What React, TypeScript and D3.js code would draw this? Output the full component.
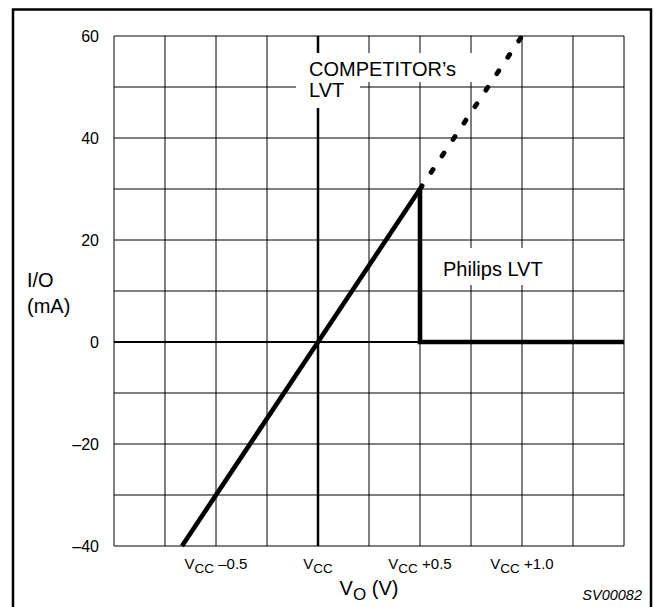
import React from "react";
import * as d3 from "d3";

// ---- data ----
const yTicks = [-40, -20, 0, 20, 40, 60];
const yTickLabels = ["–40", "–20", "0", "20", "40", "60"];
const xTickValues = [-0.5, 0, 0.5, 1.0];
const xTickSuffix = ["–0.5", "", "+0.5", "+1.0"];
const xGridValues = [-1, -0.75, -0.5, -0.25, 0, 0.25, 0.5, 0.75, 1.0, 1.25, 1.5];
const yGridValues = [-40, -30, -20, -10, 0, 10, 20, 30, 40, 50, 60];

// shared solid portion (both devices)
const sharedV = [-0.6667, 0, 0.5];
const sharedI = [-40, 0, 30];
// competitor continuation (dashed)
const competitorV = [0.5, 1.0];
const competitorI = [30, 60];
// Philips clamp
const philipsV = [0.5, 0.5, 1.5];
const philipsI = [30, 0, 0];

const W = 654;
const H = 607;
const FONT = "'Liberation Sans', Arial, Helvetica, sans-serif";

export default function App() {
  const x = d3.scaleLinear().domain([-1, 1.5]).range([114, 624]);
  const y = d3.scaleLinear().domain([-40, 60]).range([546, 36]);

  const line = d3
    .line<[number, number]>()
    .x((d) => x(d[0]))
    .y((d) => y(d[1]));

  const shared = line(sharedV.map((v, i) => [v, sharedI[i]] as [number, number]))!;
  const comp = line(competitorV.map((v, i) => [v, competitorI[i]] as [number, number]))!;
  const phil = line(philipsV.map((v, i) => [v, philipsI[i]] as [number, number]))!;

  const [x0, x1] = x.range();
  const [yb, yt] = y.range();

  return (
    <svg
      width={W}
      height={H}
      style={{ position: "absolute", left: 0, top: 0, background: "#fff" }}
      fontFamily={FONT}
    >
      <rect x={0} y={0} width={W} height={H} fill="#fff" />
      {/* outer frame */}
      <rect x={13} y={9.5} width={638} height={620} fill="none" stroke="#000" strokeWidth={2.5} />

      {/* grid */}
      {xGridValues.map((v) => (
        <line key={"gx" + v} x1={x(v)} x2={x(v)} y1={yt} y2={yb} stroke="#000" strokeWidth={1} />
      ))}
      {yGridValues.map((v) => (
        <line key={"gy" + v} x1={x0} x2={x1} y1={y(v)} y2={y(v)} stroke="#000" strokeWidth={1} />
      ))}

      {/* Vcc and zero axes */}
      <line x1={x(0)} x2={x(0)} y1={yt} y2={yb} stroke="#000" strokeWidth={2.5} />
      <line x1={x0} x2={x1} y1={y(0)} y2={y(0)} stroke="#000" strokeWidth={2.2} />

      {/* label backgrounds */}
      <rect x={296} y={53} width={182} height={29} fill="#fff" />
      <rect x={296} y={82} width={64} height={26} fill="#fff" />
      <rect x={437} y={248} width={115} height={37} fill="#fff" />

      {/* curves */}
      <path d={shared} fill="none" stroke="#000" strokeWidth={4.6} />
      <path
        d={comp}
        fill="none"
        stroke="#000"
        strokeWidth={4.8}
        strokeLinecap="round"
        strokeDasharray="3.5 16.25"
        strokeDashoffset={-20}
      />
      <path d={phil} fill="none" stroke="#000" strokeWidth={4.6} strokeLinejoin="miter" />

      {/* y tick labels */}
      {yTicks.map((v, i) => (
        <text key={"yt" + v} x={99} y={y(v)} dy="0.36em" textAnchor="end" fontSize={16}>
          {yTickLabels[i]}
        </text>
      ))}

      {/* x tick labels */}
      {xTickValues.map((v, i) => (
        <text key={"xt" + v} x={x(v)} y={569} textAnchor="middle" fontSize={15}>
          <tspan>V</tspan>
          <tspan dy={3.5} fontSize={13.5}>CC</tspan>
          <tspan dy={-3.5}>{xTickSuffix[i] ? " " + xTickSuffix[i] : ""}</tspan>
        </text>
      ))}

      {/* axis titles */}
      <text x={27} y={287} fontSize={20}>I/O</text>
      <text x={27} y={313} fontSize={20}>(mA)</text>
      <text x={(x0 + x1) / 2} y={595} textAnchor="middle" fontSize={20}>
        <tspan>V</tspan>
        <tspan dy={5} fontSize={17}>O</tspan>
        <tspan dy={-5}> (V)</tspan>
      </text>

      {/* annotations */}
      <text x={309} y={76} fontSize={20}>COMPETITOR’s</text>
      <text x={309} y={97} fontSize={20}>LVT</text>
      <text x={443} y={276} fontSize={20}>Philips LVT</text>
      <text x={642} y={600} textAnchor="end" fontSize={14.5} fontStyle="italic">SV00082</text>
    </svg>
  );
}
